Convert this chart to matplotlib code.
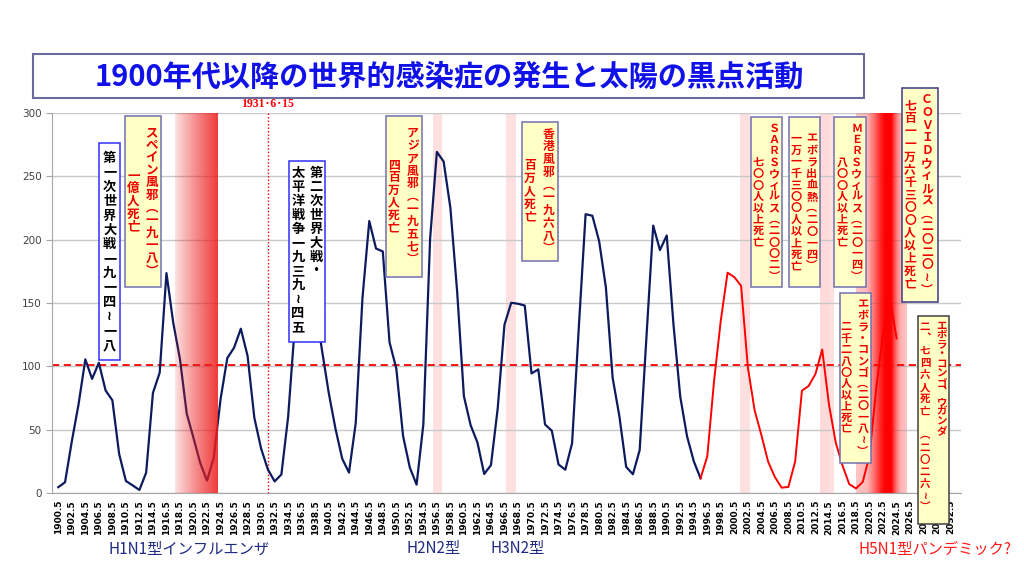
import numpy as np
import matplotlib
matplotlib.use('Agg')
import matplotlib.pyplot as plt
from matplotlib.patches import Rectangle
from matplotlib.transforms import offset_copy, blended_transform_factory

plt.rcParams['font.family'] = ['Noto Sans CJK JP', 'DejaVu Sans']

# 年平均黒点数
years = np.arange(1900.5, 2025.0, 1.0)
sunspots = [
    4.6, 8.5, 40.8, 70.1, 105.5, 90.1, 102.8, 80.9, 73.2, 30.9,
    9.5, 6.0, 2.4, 16.1, 79.0, 95.0, 173.6, 134.6, 105.7, 62.7,
    43.5, 23.7, 9.7, 27.9, 74.0, 106.5, 114.7, 129.7, 108.2, 59.4,
    35.1, 18.6, 9.2, 14.6, 60.2, 132.8, 190.6, 182.6, 148.0, 113.0,
    79.2, 50.8, 27.1, 16.1, 55.3, 154.3, 214.7, 193.0, 190.7, 118.9,
    98.3, 45.0, 20.1, 6.6, 54.2, 200.7, 269.3, 261.7, 225.1, 159.0,
    76.4, 53.4, 39.9, 15.0, 22.0, 66.8, 132.9, 150.2, 149.4, 148.0,
    94.4, 97.6, 54.1, 49.2, 22.5, 18.4, 39.3, 131.0, 220.1, 218.9,
    198.9, 162.4, 91.0, 60.5, 20.6, 14.8, 33.9, 123.0, 211.1, 191.8,
    203.3, 133.0, 76.1, 44.9, 25.1, 11.6, 28.9, 88.3, 136.3, 173.9,
    170.4, 163.6, 99.3, 65.3, 45.8, 24.7, 12.6, 4.2, 4.8, 24.9,
    80.8, 84.5, 94.0, 113.3, 69.8, 39.8, 21.7, 7.0, 3.6, 8.8,
    29.6, 83.2, 125.5, 154.7, 122.0,
]
split_year = 1995.5          # ここから赤線
mean_level = 101             # 赤い破線
tick_years = np.arange(1900.5, 2033.0, 2.0)
marker_date = 1931.45        # 1931・6・15
marker_label = '1931･6･15'

# 感染症の時期（薄いピンク帯）
pale_bands = [(1955.9, 1957.3), (1966.7, 1968.2), (2001.4, 2002.8),
              (2013.2, 2014.5), (2013.2, 2015.2), (2018.5, 2026.0)]
spanish_span = (1917.8, 1924.1)
covid_span = (2018.5, 2026.0)
covid_x = [2018.5, 2020.1, 2021.0, 2022.3, 2022.8, 2023.7, 2024.5, 2025.1, 2026.0]
covid_a = [0.12, 0.18, 0.45, 0.9, 1.0, 1.0, 0.45, 0.2, 0.12]

title = '1900年代以降の世界的感染症の発生と太陽の黒点活動'
bottom_labels = [('H1N1型インフルエンザ', 109, '#1f2b83'), ('H2N2型', 406, '#1f2b83'),
                 ('H3N2型', 490, '#1f2b83'), ('H5N1型パンデミック?', 858, '#ff1a1a')]

# 縦書きの注記
notes = [
    dict(box=(1906.57, 1909.63, 276.3, 105.0), face='white', edge='#3030ff', color='black',
         size=9.5, pitch=14.4, align='center', cols=[(1908.1, '第一次世界大戦一九一四～一八')]),
    dict(box=(1910.38, 1915.69, 297.6, 162.6), face='#ffffc6', edge='#7070b0', color='#ee0000',
         size=9, pitch=12.6, align='center', cols=[(1914.3, 'スペイン風邪（一九一八）'), (1911.6, '一億人死亡')]),
    dict(box=(1934.58, 1939.96, 262.1, 119.2), face='white', edge='#3030ff', color='black',
         size=9.5, pitch=14.0, align='top', cols=[(1938.62, '第二次世界大戦・'), (1935.96, '太平洋戦争一九三九～四五')]),
    dict(box=(1948.98, 1954.35, 297.6, 170.5), face='#ffffc6', edge='#7070b0', color='#ee0000',
         size=8.5, pitch=12.6, align='center', cols=[(1952.93, 'アジア風邪（一九五七）'), (1950.13, '四百万人死亡')]),
    dict(box=(1969.1, 1974.4, 293.1, 183.2), face='#ffffc6', edge='#7070b0', color='#ee0000',
         size=8.5, pitch=12.7, align='center', cols=[(1972.98, '香港風邪（一九六八）'), (1970.29, '百万人死亡')]),
    dict(box=(2002.97, 2007.6, 296.8, 162.4), face='#ffffc6', edge='#7070b0', color='#ee0000',
         size=8, pitch=11.4, align='center', cols=[(2006.37, 'ＳＡＲＳウィルス（二〇〇二）'), (2004.05, '七〇〇人以上死亡')]),
    dict(box=(2008.59, 2013.18, 296.8, 162.4), face='#ffffc6', edge='#7070b0', color='#ee0000',
         size=8, pitch=11.6, align='center', cols=[(2011.95, 'エボラ出血熱（二〇一四）'), (2009.63, '一万一千三〇〇人以上死亡')]),
    dict(box=(2015.3, 2019.98, 296.8, 162.4), face='#ffffc6', edge='#7070b0', color='#ee0000',
         size=8, pitch=11.4, align='center', cols=[(2018.6, 'ＭＥＲＳウィルス（二〇一四）'), (2016.47, '八〇〇人以上死亡')]),
    dict(box=(2016.13, 2020.67, 158.1, 23.9), face='#ffffc6', edge='#7070b0', color='#ee0000',
         size=8, pitch=11.3, align='center', cols=[(2019.5, 'エボラ・コンゴ（二〇一八～）'), (2017.04, '二千二八〇人以上死亡')]),
    dict(box=(2025.26, 2030.59, 319.5, 151.0), face='#ffffc6', edge='#3a3a8a', color='#ee0000',
         size=8.5, pitch=12.7, align='center', cols=[(2029.0, 'ＣＯＶＩＤウィルス（二〇二〇～）'), (2026.49, '七百一一万六千三〇〇人以上死亡')]),
    dict(box=(2027.6, 2032.3, 140.0, -24.7), face='#ffffc6', edge='#404040', color='#ee0000',
         size=7.5, pitch=9.6, align='top', cols=[(2031.18, 'エボラ・コンゴ、ウガンダ'), (2028.71, '二、七四六人死亡　（二〇二六～）', 12.1)]),
]

VERT = str.maketrans({'（': '︵', '）': '︶', '～': '≀', '、': '︑'})

fig = plt.figure(figsize=(10.24, 5.76), dpi=100)
ax = fig.add_axes([52 / 1024, 83 / 576, 909 / 1024, 380 / 576])

yrs = np.asarray(years)
ss = np.asarray(sunspots)
blue = yrs <= split_year
red = yrs >= split_year
ax.plot(yrs[blue], ss[blue], color='#0c1a5e', lw=1.6, zorder=2.2)
ax.plot(yrs[red], ss[red], color='#ff0000', lw=1.4, zorder=2.2)
ax.axhline(mean_level, color='#ff0000', lw=1.3, ls=(0, (4, 2.5)), zorder=2.1)

for a, b in pale_bands:
    ax.axvspan(a, b, color='#ffd9d9', alpha=0.8, lw=0, zorder=0.3)

# スペイン風邪のグラデーション
t = np.linspace(0, 1, 300)
grad = np.zeros((1, t.size, 4))
grad[..., 0] = 0.93
grad[..., 1] = 0.12
grad[..., 2] = 0.12
grad[..., 3] = 0.12 + 0.75 * t ** 0.9
ax.imshow(grad, extent=[spanish_span[0], spanish_span[1], 0, 300], aspect='auto',
          interpolation='bilinear', zorder=3)

# COVIDのグラデーション
xc = np.linspace(covid_span[0], covid_span[1], 400)
cg = np.zeros((1, xc.size, 4))
cg[..., 0] = 1.0
cg[..., 3] = np.interp(xc, covid_x, covid_a)
ax.imshow(cg, extent=[covid_span[0], covid_span[1], 0, 300], aspect='auto',
          interpolation='bilinear', zorder=1.5)

ax.axvline(marker_date, color='#ff0000', lw=1, ls=(0, (1, 1.5)), zorder=2)
trans = blended_transform_factory(ax.transData, ax.transAxes)
ax.text(marker_date, 1.024, marker_label, transform=trans, ha='center', va='center',
        color='#ff0000', fontsize=8.5, fontweight='bold',
        family=['Liberation Serif', 'Noto Sans CJK JP'])

ax.set_xlim(1899.57, 2034.03)
ax.set_ylim(0, 300)
ax.set_yticks(np.arange(0, 301, 50))
ax.set_xticks(tick_years)
ax.set_xticklabels([f'{v:.1f}' for v in tick_years], rotation=90, fontsize=6.5,
                   fontweight='bold', family='DejaVu Sans')
ax.tick_params(axis='x', length=0, pad=5)
ax.tick_params(axis='y', length=4, color='#a6a6a6', labelsize=7.5, labelcolor='#404040')
for lab in ax.get_yticklabels():
    lab.set_family('DejaVu Sans')
ax.yaxis.grid(True, color='#c8c8c8', lw=1)
ax.set_axisbelow(True)
for s in ['top', 'right']:
    ax.spines[s].set_visible(False)
for s in ['left', 'bottom']:
    ax.spines[s].set_color('#a6a6a6')

# 縦書き注記
for n in notes:
    x0, x1, top, bot = n['box']
    ax.add_patch(Rectangle((x0, bot), x1 - x0, top - bot, facecolor=n['face'],
                           edgecolor=n['edge'], lw=1.1, zorder=5, clip_on=False))
    for col in n['cols']:
        cx, txt = col[0], col[1]
        pitch = col[2] if len(col) > 2 else n['pitch']
        chars = txt.translate(VERT)
        k = len(chars)
        for i, ch in enumerate(chars):
            if n['align'] == 'center':
                y0 = (top + bot) / 2
                off = ((k - 1) / 2 - i) * pitch
            else:
                y0 = top
                off = -(5 + (i + 0.5) * pitch)
            tr = offset_copy(ax.transData, fig=fig, y=off, units='dots')
            ax.text(cx, y0, ch, transform=tr, ha='center', va='center', color=n['color'],
                    fontsize=n['size'], fontweight='bold', zorder=6, clip_on=False)

# タイトル
fig.patches.append(Rectangle((33 / 1024, 1 - 98 / 576), 831 / 1024, 44 / 576,
                             transform=fig.transFigure, facecolor='white',
                             edgecolor='#6b6b9b', lw=1.5))
fig.text(449 / 1024, 1 - 77 / 576, title, ha='center', va='center', fontsize=21,
         fontweight='bold', color='#1010e8')

for txt, px, col in bottom_labels:
    fig.text(px / 1024, 1 - 549 / 576, txt, ha='left', va='center', fontsize=11, color=col)

fig.savefig('out.png', dpi=100)
